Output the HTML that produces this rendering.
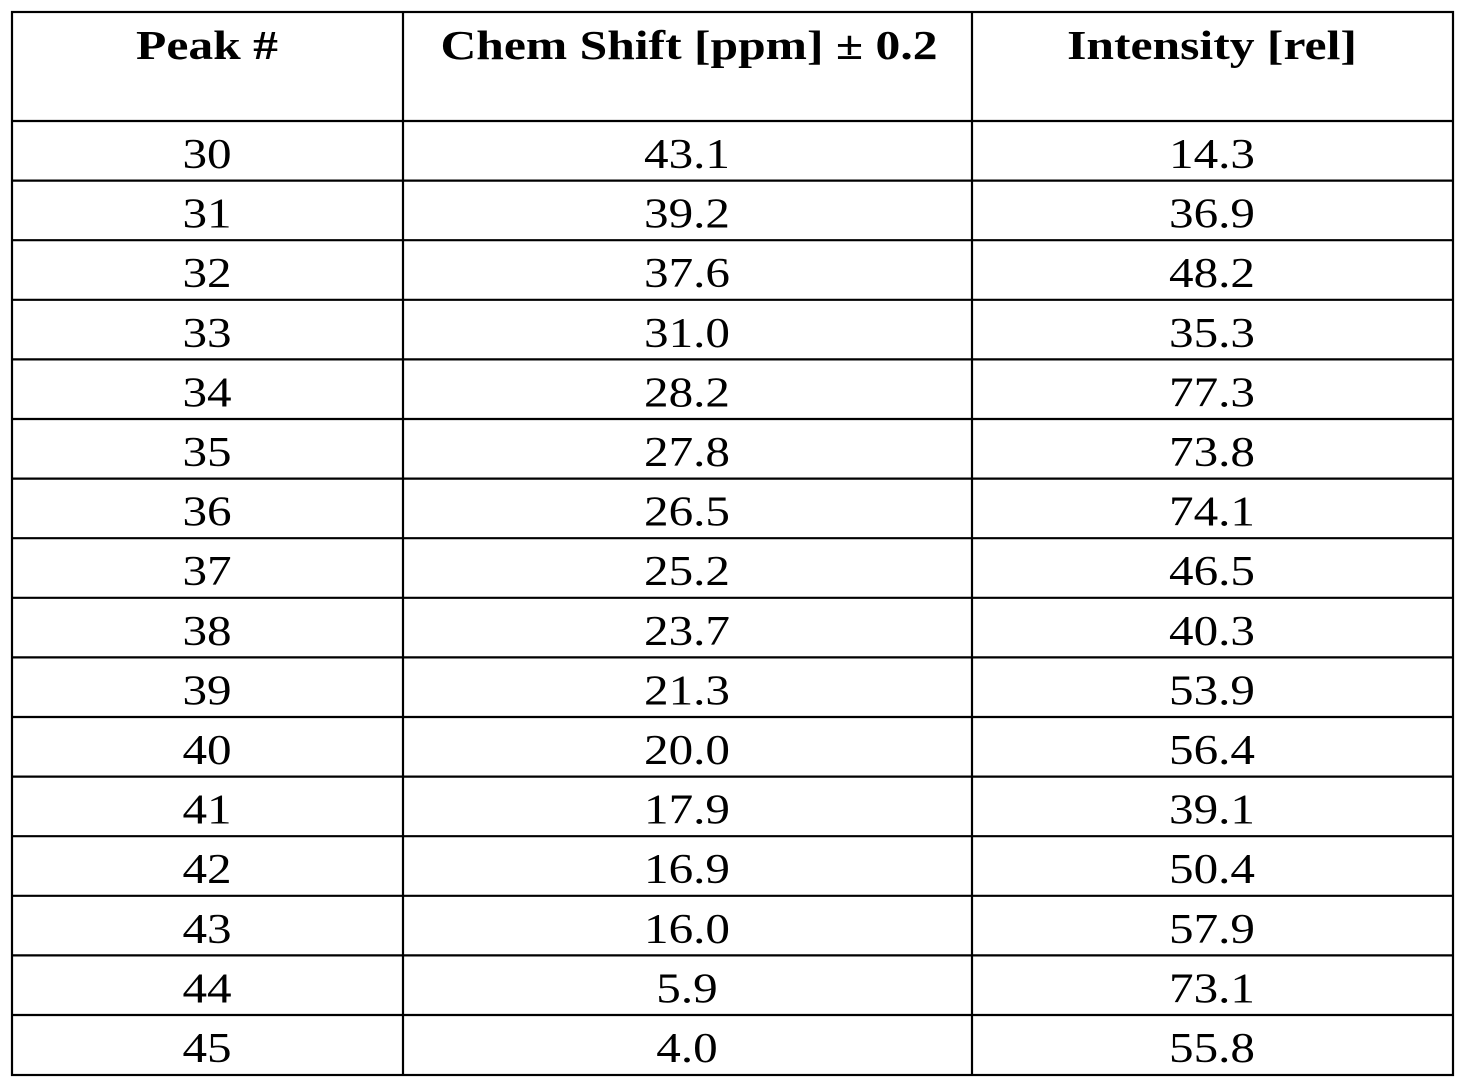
<!DOCTYPE html>
<html><head><meta charset="utf-8"><style>
html,body{margin:0;padding:0;background:#fff;}
svg{display:block;}
text{font-family:"Liberation Serif","Times New Roman",serif;fill:#000;}
</style></head><body>
<svg width="1466" height="1087" viewBox="0 0 1466 1087" xmlns="http://www.w3.org/2000/svg">
<g stroke="#000" stroke-width="2.2" fill="none">
<rect x="12" y="12" width="1441" height="1063"/>
<line x1="403" y1="12" x2="403" y2="1075"/>
<line x1="972" y1="12" x2="972" y2="1075"/>
<line x1="12" y1="121" x2="1453" y2="121"/>
<line x1="12" y1="180.6" x2="1453" y2="180.6"/>
<line x1="12" y1="240.2" x2="1453" y2="240.2"/>
<line x1="12" y1="299.8" x2="1453" y2="299.8"/>
<line x1="12" y1="359.4" x2="1453" y2="359.4"/>
<line x1="12" y1="419" x2="1453" y2="419"/>
<line x1="12" y1="478.6" x2="1453" y2="478.6"/>
<line x1="12" y1="538.2" x2="1453" y2="538.2"/>
<line x1="12" y1="597.8" x2="1453" y2="597.8"/>
<line x1="12" y1="657.4" x2="1453" y2="657.4"/>
<line x1="12" y1="717" x2="1453" y2="717"/>
<line x1="12" y1="776.6" x2="1453" y2="776.6"/>
<line x1="12" y1="836.2" x2="1453" y2="836.2"/>
<line x1="12" y1="895.8" x2="1453" y2="895.8"/>
<line x1="12" y1="955.4" x2="1453" y2="955.4"/>
<line x1="12" y1="1015" x2="1453" y2="1015"/>
</g>
<g font-size="41" font-weight="bold" text-anchor="middle">
<text transform="translate(207,59) scale(1.21,1)">Peak #</text>
<text transform="translate(689,59) scale(1.21,1)">Chem Shift [ppm] ± 0.2</text>
<text transform="translate(1212,59) scale(1.21,1)">Intensity [rel]</text>
</g>
<g font-size="42" text-anchor="middle">
<g transform="translate(207,0) scale(1.17,1)">
<text y="168">30</text><text y="227.6">31</text><text y="287.2">32</text><text y="346.8">33</text>
<text y="406.4">34</text><text y="466">35</text><text y="525.6">36</text><text y="585.2">37</text>
<text y="644.8">38</text><text y="704.4">39</text><text y="764">40</text><text y="823.6">41</text>
<text y="883.2">42</text><text y="942.8">43</text><text y="1002.4">44</text><text y="1062">45</text>
</g>
<g transform="translate(687,0) scale(1.17,1)">
<text y="168">43.1</text><text y="227.6">39.2</text><text y="287.2">37.6</text><text y="346.8">31.0</text>
<text y="406.4">28.2</text><text y="466">27.8</text><text y="525.6">26.5</text><text y="585.2">25.2</text>
<text y="644.8">23.7</text><text y="704.4">21.3</text><text y="764">20.0</text><text y="823.6">17.9</text>
<text y="883.2">16.9</text><text y="942.8">16.0</text><text y="1002.4">5.9</text><text y="1062">4.0</text>
</g>
<g transform="translate(1212,0) scale(1.17,1)">
<text y="168">14.3</text><text y="227.6">36.9</text><text y="287.2">48.2</text><text y="346.8">35.3</text>
<text y="406.4">77.3</text><text y="466">73.8</text><text y="525.6">74.1</text><text y="585.2">46.5</text>
<text y="644.8">40.3</text><text y="704.4">53.9</text><text y="764">56.4</text><text y="823.6">39.1</text>
<text y="883.2">50.4</text><text y="942.8">57.9</text><text y="1002.4">73.1</text><text y="1062">55.8</text>
</g>
</g>
</svg>
</body></html>
